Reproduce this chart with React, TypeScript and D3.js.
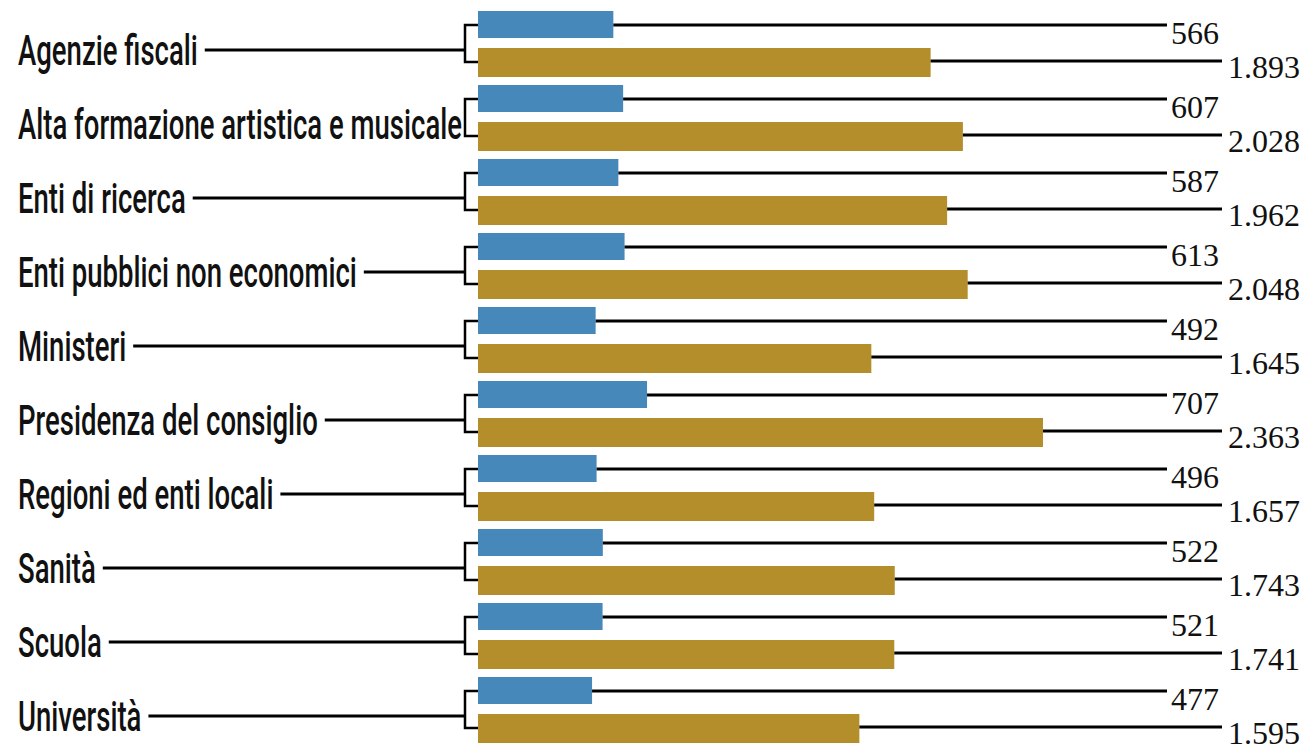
import React, { useEffect, useRef } from 'react';
import * as d3 from 'd3';

// categories and the two series (blue = first series, gold = second)
const categories: string[] = [
  'Agenzie fiscali',
  'Alta formazione artistica e musicale',
  'Enti di ricerca',
  'Enti pubblici non economici',
  'Ministeri',
  'Presidenza del consiglio',
  'Regioni ed enti locali',
  'Sanità',
  'Scuola',
  'Università',
];
const blueValues: number[] = [566, 607, 587, 613, 492, 707, 496, 522, 521, 477];
const goldValues: number[] = [1893, 2028, 1962, 2048, 1645, 2363, 1657, 1743, 1741, 1595];

const fmt = (v: number) => d3.format(',')(v).replace(/,/g, '.');

const App = () => {
  const ref = useRef<SVGSVGElement | null>(null);

  useEffect(() => {
    document.body.style.margin = '0';
    const svg = d3.select(ref.current);
    svg.selectAll('*').remove();

    const width = 1305;
    const height = 754;
    const BLUE = '#4688ba';
    const GOLD = '#b58e2c';
    const bracketX = 465;
    const blueEndX = 1167;
    const goldEndX = 1222;

    const x = d3.scaleLinear().domain([0, 2363]).range([478, 1043]);
    const y = d3.scaleBand<string>().domain(categories).range([10, 10 + 74 * categories.length]);

    svg.attr('width', width).attr('height', height);
    svg.append('rect').attr('width', width).attr('height', height).attr('fill', '#fff');

    const rows = svg
      .selectAll('g.row')
      .data(categories)
      .enter()
      .append('g')
      .attr('class', 'row')
      .attr('transform', d => `translate(0,${y(d)})`);

    // bars
    rows.append('rect')
      .attr('x', x(0))
      .attr('y', 1)
      .attr('height', 27)
      .attr('width', (_, i) => x(blueValues[i]) - x(0))
      .attr('fill', BLUE);

    rows.append('rect')
      .attr('x', x(0))
      .attr('y', 38)
      .attr('height', 29)
      .attr('width', (_, i) => x(goldValues[i]) - x(0))
      .attr('fill', GOLD);

    // value leader lines + numbers
    rows.append('line')
      .attr('x1', (_, i) => x(blueValues[i]))
      .attr('x2', blueEndX)
      .attr('y1', 15).attr('y2', 15)
      .attr('stroke', '#000').attr('stroke-width', 3);

    rows.append('line')
      .attr('x1', (_, i) => x(goldValues[i]))
      .attr('x2', goldEndX)
      .attr('y1', 51).attr('y2', 51)
      .attr('stroke', '#000').attr('stroke-width', 3);

    rows.append('text')
      .attr('x', blueEndX + 4)
      .attr('y', 34)
      .attr('font-family', '"Liberation Serif", "DejaVu Serif", serif')
      .attr('font-size', 32)
      .attr('fill', '#111')
      .text((_, i) => fmt(blueValues[i]));

    rows.append('text')
      .attr('x', goldEndX + 6)
      .attr('y', 68)
      .attr('font-family', '"Liberation Serif", "DejaVu Serif", serif')
      .attr('font-size', 32)
      .attr('fill', '#111')
      .text((_, i) => fmt(goldValues[i]));

    // bracket joining the two bars
    rows.append('path')
      .attr('d', `M${x(0)},15H${bracketX}V52H${x(0)}`)
      .attr('fill', 'none')
      .attr('stroke', '#000')
      .attr('stroke-width', 2.5);

    // category labels, squeezed to look condensed
    const labels = rows.append('text')
      .attr('font-family', 'Roboto, "Noto Sans", sans-serif')
      .attr('font-size', 42)
      .attr('font-weight', 500)
      .attr('fill', '#111')
      .text(d => d);

    const longest = labels.nodes()[1] as SVGTextElement;
    const squeeze = 444 / longest.getComputedTextLength();
    labels.attr('transform', `translate(18,55) scale(${squeeze},1)`);

    // label leader lines
    rows.each(function (_, i) {
      const w = (labels.nodes()[i] as SVGTextElement).getComputedTextLength() * squeeze;
      const start = 18 + w + 7;
      if (start < bracketX - 2) {
        d3.select(this).append('line')
          .attr('x1', start).attr('x2', bracketX)
          .attr('y1', 40).attr('y2', 40)
          .attr('stroke', '#000').attr('stroke-width', 3);
      }
    });
  }, []);

  return (
    <div>
      <svg ref={ref}></svg>
    </div>
  );
};

export default App;
